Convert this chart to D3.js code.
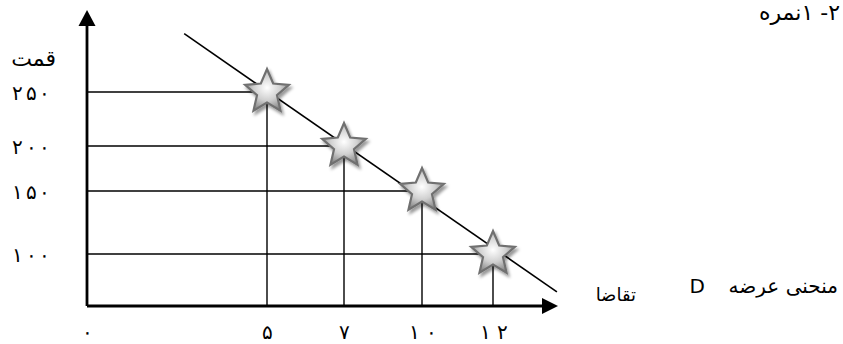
<!DOCTYPE html>
<html>
<head>
<meta charset="utf-8">
<script src="https://cdn.jsdelivr.net/npm/d3@7"></script>
<style>
  body { margin: 0; background: #fff; }
  svg { display: block; font-family: "DejaVu Sans", sans-serif; }
  .axis-line { stroke: #000; stroke-width: 2.8; fill: none; }
  .guide { stroke: #000; stroke-width: 1.4; fill: none; }
  .demand { stroke: #000; stroke-width: 1.6; fill: none; }
  .tick-label { font-size: 20px; fill: #000; }
  .label { font-size: 20px; fill: #000; }
</style>
</head>
<body>
<svg id="chart"></svg>
<script>
// quantities on the demand curve and the matching prices
const quantities = [5, 7, 10, 12];
const prices = [250, 200, 150, 100];
// tick labels
const xTickValues = [0, 5, 7, 10, 12];
const yTickValues = [100, 150, 200, 250];
// ends of the drawn demand line (extended past the points)
const demandQ = [2.7, 13.8];
const demandP = [304, 70];

const width = 843, height = 344;
const toPersian = d => String(d).replace(/\d/g, c => '۰۱۲۳۴۵۶۷۸۹'[c]);

const svg = d3.select('#chart')
    .attr('width', width)
    .attr('height', height);

// hand drawn sketch: spacing between ticks is not even, so piecewise scales
const xScale = d3.scaleLinear()
    .domain(xTickValues)
    .range([87, 267, 344, 422, 493]);

const yScale = d3.scaleLinear()
    .domain(yTickValues)
    .range([254, 191, 146, 92]);

const origin = {x: 87, y: 306};

// drop shadow + gradient for the stars
const defs = svg.append('defs');
const grad = defs.append('radialGradient')
    .attr('id', 'star-fill')
    .attr('cx', '50%').attr('cy', '45%').attr('r', '55%');
grad.append('stop').attr('offset', '0%').attr('stop-color', '#ffffff');
grad.append('stop').attr('offset', '55%').attr('stop-color', '#d0d0d0');
grad.append('stop').attr('offset', '100%').attr('stop-color', '#888');

const shadow = defs.append('filter')
    .attr('id', 'star-shadow')
    .attr('x', '-50%').attr('y', '-50%').attr('width', '200%').attr('height', '200%');
shadow.append('feDropShadow')
    .attr('dx', 2).attr('dy', 3)
    .attr('stdDeviation', 1.5)
    .attr('flood-color', '#000')
    .attr('flood-opacity', 0.4);

const points = quantities.map((q, i) => ({q: q, p: prices[i]}));

// guide lines to the axes
svg.append('g').selectAll('.h-guide')
  .data(points)
  .join('line')
    .attr('class', 'guide h-guide')
    .attr('x1', origin.x)
    .attr('x2', d => xScale(d.q))
    .attr('y1', d => yScale(d.p))
    .attr('y2', d => yScale(d.p));

svg.append('g').selectAll('.v-guide')
  .data(points)
  .join('line')
    .attr('class', 'guide v-guide')
    .attr('x1', d => xScale(d.q))
    .attr('x2', d => xScale(d.q))
    .attr('y1', d => yScale(d.p))
    .attr('y2', origin.y);

// demand line
const demandLine = d3.line()
    .x(d => xScale(d[0]))
    .y(d => yScale(d[1]));

svg.append('path')
    .attr('class', 'demand')
    .attr('d', demandLine(d3.zip(demandQ, demandP)));

// axes with arrow heads
svg.append('path')
    .attr('class', 'axis-line')
    .attr('d', `M${origin.x},${origin.y}V24M545,${origin.y}H${origin.x}`);

svg.append('path')
    .attr('d', `M${origin.x},10L${origin.x - 8.5},26L${origin.x + 8.5},26Z`);
svg.append('path')
    .attr('d', `M558,${origin.y}L542,${origin.y - 8}L542,${origin.y + 8}Z`);

// tick labels
const xAxis = d3.axisBottom(xScale)
    .tickValues(xTickValues)
    .tickSize(0)
    .tickPadding(19)
    .tickFormat(toPersian);

svg.append('g')
    .attr('transform', `translate(0,${origin.y})`)
    .call(xAxis)
    .call(g => g.select('.domain').remove())
    .call(g => g.selectAll('text')
        .attr('class', 'tick-label')
        .attr('font-family', null)
        .attr('font-size', null)
        .attr('textLength', d => d >= 10 ? 28 : null)
        .attr('lengthAdjust', 'spacing'));

const yAxis = d3.axisLeft(yScale)
    .tickValues(yTickValues)
    .tickSize(0)
    .tickPadding(37)
    .tickFormat(toPersian);

svg.append('g')
    .attr('transform', `translate(${origin.x},1)`)
    .call(yAxis)
    .call(g => g.select('.domain').remove())
    .call(g => g.selectAll('text')
        .attr('class', 'tick-label')
        .attr('font-family', null)
        .attr('font-size', null)
        .attr('textLength', 38)
        .attr('lengthAdjust', 'spacing'));

// stars on the demand points
const starPath = d3.lineRadial()
    .angle((d, i) => i * Math.PI / 5)
    .radius((d, i) => i % 2 === 0 ? 23 : 10.5)
    .curve(d3.curveLinearClosed)(d3.range(10));

svg.append('g').selectAll('.star')
  .data(points)
  .join('path')
    .attr('class', 'star')
    .attr('d', starPath)
    .attr('transform', d => `translate(${xScale(d.q)},${yScale(d.p)})`)
    .attr('fill', 'url(#star-fill)')
    .attr('stroke', '#707070')
    .attr('stroke-width', 2.2)
    .attr('stroke-linejoin', 'miter')
    .attr('filter', 'url(#star-shadow)');

// texts, right edge at x
function label(text, x, y, size, rtl) {
  const t = svg.append('text')
      .attr('class', 'label')
      .attr('x', x).attr('y', y)
      .attr('text-anchor', 'end')
      .style('font-size', size + 'px')
      .text(text);
  if (rtl) t.attr('direction', 'rtl').attr('text-anchor', 'start');
  return t;
}

label('قمت', 56, 66, 22);
label('تقاضا', 636, 301, 18);
label('D', 705, 293, 20);
label('منحنی عرضه', 838, 293, 20);
label('۲- ۱نمره', 840, 20, 22, true);
</script>
</body>
</html>
